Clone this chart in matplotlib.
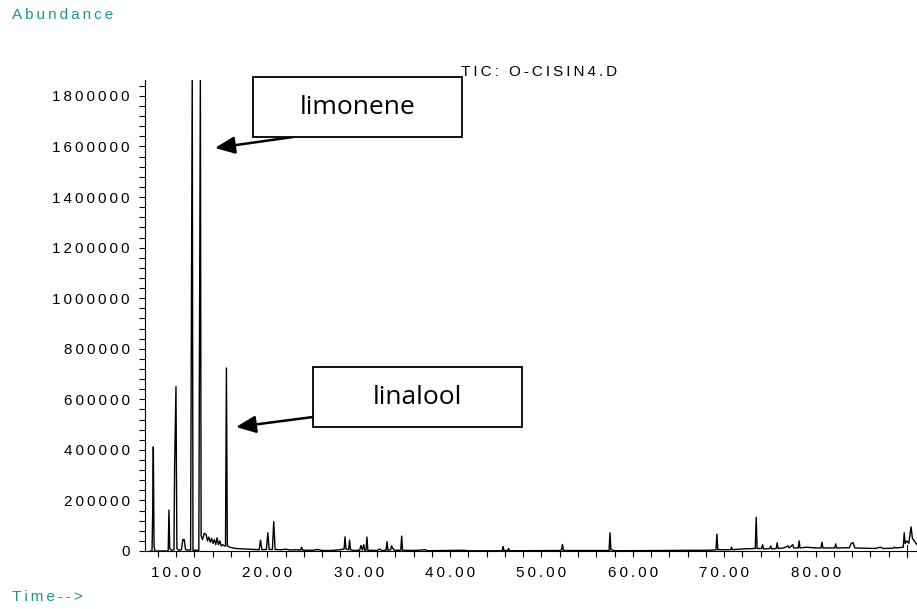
import numpy as np
import matplotlib
matplotlib.use("Agg")
import matplotlib.pyplot as plt
from matplotlib.patches import Rectangle

# chromatogram trace (retention time in min, abundance)
time_min = [7.20, 7.38, 7.45, 7.52, 7.60, 7.70,
            9.00, 9.15, 9.23, 9.32, 9.50,
            9.78, 9.85, 10.00, 10.10, 10.30,
            10.60, 10.75, 10.90, 11.05,
            11.60, 11.78, 11.86,
            12.50, 12.67, 12.75,
            12.90, 13.10, 13.30, 13.45, 13.60, 13.75, 13.90, 14.05, 14.20, 14.35,
            14.50, 14.65, 14.80, 14.95, 15.10, 15.30,
            15.42, 15.52, 15.62, 15.90, 16.50, 17.50, 18.50,
            19.10, 19.25, 19.40, 19.90, 20.05, 20.20, 20.55, 20.70, 20.85,
            21.50, 22.00, 22.50, 23.00, 23.65, 23.75, 23.85, 25.00, 25.50, 26.00,
            27.00, 28.00, 28.40, 28.50, 28.60, 28.90, 29.00, 29.10, 29.50,
            30.10, 30.25, 30.40, 30.55, 30.65, 30.80, 30.90, 31.00,
            32.00, 32.30, 32.50, 33.00, 33.10, 33.20, 33.50, 33.60, 33.70, 33.90,
            34.60, 34.70, 34.80, 36.00, 37.30, 37.50, 40.00, 41.50, 42.00,
            45.70, 45.80, 45.90, 46.30, 46.40, 46.50,
            52.00, 52.20, 52.30, 52.40, 57.40, 57.50, 57.60, 58.00,
            63.00, 68.00, 69.10, 69.20, 69.30, 70.70, 70.80, 70.90, 72.00,
            73.40, 73.50, 73.60, 74.10, 74.20, 74.30, 75.00, 75.10, 75.20,
            75.70, 75.80, 75.90, 76.50, 77.00, 77.10, 77.50, 77.60,
            78.10, 78.20, 78.30, 79.00, 80.00, 80.60, 80.70, 80.80,
            82.10, 82.20, 82.30, 83.70, 83.90, 84.10, 84.30,
            86.50, 87.10, 87.40, 88.50, 88.60, 88.80,
            89.60, 89.70, 89.80, 90.00, 90.20, 90.45, 90.60, 90.80, 91.00, 91.20]
abundance = [0, 0, 150000, 412000, 20000, 0,
             0, 0, 162000, 10000, 3000,
             5000, 332000, 650000, 10000, 3000,
             5000, 45000, 45000, 5000,
             3000, 1900000, 3000,
             3000, 1900000, 60000,
             45000, 70000, 65000, 40000, 55000, 35000, 50000, 30000, 45000, 25000,
             52000, 25000, 40000, 20000, 25000, 20000,
             20000, 724000, 20000, 15000, 10000, 8000, 6000,
             5000, 43000, 5000, 6000, 72000, 6000, 6000, 116000, 6000,
             5000, 7000, 4000, 5000, 4000, 15000, 3000, 3000, 6000, 2000,
             2000, 5000, 8000, 56000, 8000, 5000, 43000, 5000, 2000,
             3000, 22000, 3000, 25000, 3000, 3000, 55000, 3000,
             2000, 8000, 2000, 3000, 37000, 3000, 5000, 20000, 12000, 3000,
             3000, 59000, 3000, 2000, 5000, 1000, 2000, 3000, 1000,
             1000, 18000, 2000, 2000, 10000, 1000,
             2000, 5000, 26000, 2000, 2000, 72000, 5000, 1000,
             2000, 3000, 4000, 67000, 5000, 5000, 15000, 5000, 8000,
             10000, 133000, 10000, 10000, 25000, 8000, 10000, 20000, 8000,
             10000, 33000, 10000, 12000, 20000, 12000, 25000, 12000,
             12000, 40000, 12000, 15000, 12000, 12000, 35000, 12000,
             12000, 28000, 12000, 13000, 30000, 33000, 12000,
             10000, 15000, 10000, 11000, 15000, 12000,
             15000, 72000, 30000, 40000, 30000, 95000, 50000, 40000, 30000, 20000]

y_ticks = [0, 200000, 400000, 600000, 800000, 1000000, 1200000, 1400000, 1600000, 1800000]
x_ticks = [10, 20, 30, 40, 50, 60, 70, 80]
x_labels = ["10.00", "20.00", "30.00", "40.00", "50.00", "60.00", "70.00", "80.00"]

TEAL = "#1e9696"
FONT = ["Liberation Sans Narrow", "Liberation Sans", "DejaVu Sans"]


def spaced(s, sep="\u2009"):
    return sep.join(s)


fig = plt.figure(figsize=(9.17, 6.09), dpi=100)
ax = fig.add_axes([145 / 917, 58 / 609, 1 - 145 / 917, (551 - 80) / 609])

ax.plot(time_min, abundance, color="black", lw=1.0)
ax.set_xlim(6.61, 91.1)
ax.set_ylim(0, 1863000)

for s in ["top", "right"]:
    ax.spines[s].set_visible(False)

ax.set_yticks(y_ticks)
ax.set_yticklabels([spaced(str(v)) for v in y_ticks], family=FONT, fontsize=11)
ax.set_yticks(np.arange(0, 1863000, 40000), minor=True)
ax.set_xticks(x_ticks)
ax.set_xticklabels([spaced(l) for l in x_labels], family=FONT, fontsize=11)
ax.set_xticks(np.arange(8, 91, 2), minor=True)
ax.tick_params(which="both", direction="out", length=4, width=0.8, pad=7)

# tick at 90 crosses the axis
ax.plot([90, 90], [-0.012, 0.012], transform=ax.get_xaxis_transform(),
        color="black", lw=0.8, clip_on=False)

fig.text(12 / 917, 1 - 19 / 609, spaced("Abundance"), color=TEAL,
         family=FONT, fontsize=11, va="baseline")
fig.text(12 / 917, 1 - 601 / 609, spaced("Time-->"), color=TEAL,
         family=FONT, fontsize=11, va="baseline")
fig.text(461 / 917, 1 - 76 / 609, spaced("TIC: O-CISIN4.D"), color="black",
         family=FONT, fontsize=11, va="baseline")

# annotation boxes (figure pixels)
boxes = [("limonene", 253, 77, (293, 137), (215, 148)),
         ("linalool", 313, 367, (313, 417), (236, 427))]
for name, bx, by, start, tip in boxes:
    fig.patches.append(Rectangle((bx / 917, 1 - (by + 60) / 609), 209 / 917, 60 / 609,
                                 transform=fig.transFigure, fill=True, fc="white",
                                 ec="black", lw=1.3))
    fig.text((bx + 104.5) / 917, 1 - (by + 31) / 609, name, family="Open Sans",
             fontsize=19, ha="center", va="center")
    ax.annotate("", xy=(tip[0] / 917, 1 - tip[1] / 609), xycoords="figure fraction",
                xytext=(start[0] / 917, 1 - start[1] / 609), textcoords="figure fraction",
                arrowprops=dict(arrowstyle="-|>,head_length=0.8,head_width=0.35",
                                mutation_scale=15, lw=1.8, color="black",
                                shrinkA=0, shrinkB=0))

fig.savefig("out.png", dpi=100)
